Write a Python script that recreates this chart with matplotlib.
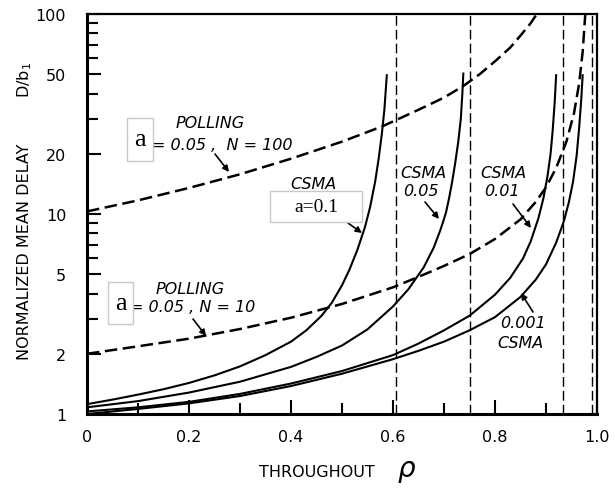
import matplotlib
matplotlib.use("Agg")
import matplotlib.pyplot as plt
from matplotlib.patches import Rectangle

# throughput rho vs normalized mean delay D/b1
rho_a01 = [0, 0.05, 0.1, 0.15, 0.2, 0.25, 0.3, 0.35, 0.4, 0.43, 0.46, 0.48,
           0.5, 0.515, 0.53, 0.545, 0.555, 0.565, 0.572, 0.578, 0.583, 0.588]
delay_a01 = [1.12, 1.18, 1.25, 1.33, 1.43, 1.56, 1.73, 1.97, 2.3, 2.62, 3.1, 3.6,
             4.4, 5.3, 6.6, 8.6, 10.8, 14.5, 19, 25, 33, 50]

rho_a005 = [0, 0.1, 0.2, 0.3, 0.4, 0.45, 0.5, 0.55, 0.6, 0.63, 0.66, 0.68,
            0.692, 0.698, 0.704, 0.71, 0.716, 0.722, 0.728, 0.733, 0.736, 0.738]
delay_a005 = [1.08, 1.16, 1.28, 1.45, 1.72, 1.93, 2.2, 2.65, 3.45, 4.2, 5.4, 6.8,
              8.2, 9.1, 10.2, 12, 14.5, 18, 23, 30, 40, 51]

rho_a001 = [0, 0.1, 0.2, 0.3, 0.4, 0.5, 0.6, 0.65, 0.7, 0.75, 0.8, 0.83,
            0.855, 0.87, 0.885, 0.895, 0.903, 0.909, 0.913, 0.917, 0.92]
delay_a001 = [1.03, 1.08, 1.15, 1.26, 1.42, 1.64, 1.97, 2.25, 2.62, 3.1, 3.95, 4.8,
              6.0, 7.3, 9.5, 12, 15.5, 20, 26, 36, 50]

rho_a0001 = [0, 0.1, 0.2, 0.3, 0.4, 0.5, 0.6, 0.65, 0.7, 0.75, 0.8, 0.85,
             0.88, 0.9, 0.92, 0.935, 0.945, 0.953, 0.96, 0.965, 0.969, 0.972]
delay_a0001 = [1.0, 1.06, 1.13, 1.23, 1.38, 1.59, 1.88, 2.07, 2.3, 2.62, 3.05, 3.85,
               4.7, 5.6, 7.2, 9.2, 11.5, 14.5, 19.5, 27, 37, 50]

rho_poll100 = [0, 0.1, 0.2, 0.3, 0.4, 0.5, 0.58, 0.65, 0.7, 0.737, 0.77, 0.8,
               0.83, 0.85, 0.87, 0.882]
delay_poll100 = [10.3, 11.7, 13.5, 15.8, 18.9, 23, 27.5, 33.2, 38.2, 43.5, 50, 58,
                 68, 78, 90, 100]

rho_poll10 = [0, 0.1, 0.2, 0.3, 0.4, 0.5, 0.6, 0.65, 0.7, 0.75, 0.8, 0.85,
              0.88, 0.9, 0.92, 0.94, 0.955, 0.965, 0.972, 0.977]
delay_poll10 = [2.0, 2.18, 2.38, 2.66, 3.03, 3.55, 4.3, 4.85, 5.5, 6.3, 7.5, 9.4,
                11.5, 13.6, 17, 23, 32, 45, 65, 100]

# capacity limits of the CSMA curves
rho_limits = [0.605, 0.75, 0.933, 0.99]

x_ticks = [0, 0.2, 0.4, 0.6, 0.8, 1.0]
x_tick_labels = ["0", "0.2", "0.4", "0.6", "0.8", "1.0"]
y_ticks = [1, 2, 5, 10, 20, 50, 100]
y_tick_labels = ["1", "2", "5", "10", "20", "50", "100"]

W, H = 615, 489
plt.rcParams["lines.scale_dashes"] = False
fig = plt.figure(figsize=(W / 100, H / 100), dpi=100)
ax = fig.add_axes([87 / W, 74 / H, 510 / W, 400 / H])


def fpx(x, y):
    # pixel position (from top-left) -> figure fraction
    return x / W, 1 - y / H


solid = dict(color="black", lw=1.5, solid_capstyle="butt",
             solid_joinstyle="round")
for r, d in [(rho_a01, delay_a01), (rho_a005, delay_a005),
             (rho_a001, delay_a001), (rho_a0001, delay_a0001)]:
    ax.plot(r, d, **solid)

for r, d in [(rho_poll100, delay_poll100), (rho_poll10, delay_poll10)]:
    ax.plot(r, d, color="black", lw=1.8, dashes=(9, 4))

for r in rho_limits:
    ax.axvline(r, color="black", lw=1.0, dashes=(7, 3))

ax.set_yscale("log")
ax.set_xlim(0, 1)
ax.set_ylim(1, 100)
ax.set_xticks(x_ticks)
ax.set_xticklabels(x_tick_labels)
ax.set_xticks([0.1, 0.3, 0.5, 0.7, 0.9], minor=True)
ax.set_yticks(y_ticks)
ax.set_yticklabels(y_tick_labels)
ax.set_yticks([3, 4, 6, 7, 8, 9, 30, 40, 60, 70, 80, 90], minor=True)
ax.yaxis.set_minor_formatter(plt.NullFormatter())
ax.tick_params(which="both", direction="in", width=1.5, labelsize=11.5)
ax.tick_params(which="major", length=10)
ax.tick_params(which="minor", length=8)
ax.tick_params(axis="x", pad=11)
ax.tick_params(axis="y", pad=15)
for side in ["left", "bottom"]:
    ax.spines[side].set_linewidth(2.2)
for side in ["top", "right"]:
    ax.spines[side].set_linewidth(1.6)

# axis titles
fig.text(*fpx(317, 473), "THROUGHOUT", ha="center", va="center", fontsize=11.5)
fig.text(*fpx(407, 471), r"$\rho$", ha="center", va="center", fontsize=20)
fig.text(*fpx(25, 252), "NORMALIZED MEAN DELAY", rotation=90,
         ha="center", va="center", fontsize=11.5)
fig.text(*fpx(25, 80), r"D/b$_\mathsf{1}$", rotation=90,
         ha="center", va="center", fontsize=11.5)

# curve labels
lab = dict(style="italic", fontsize=11.5, ha="center", va="center")
fig.text(*fpx(210, 123), "POLLING", **lab)
fig.text(*fpx(222, 145), "= 0.05 ,  N = 100", **lab)
fig.text(*fpx(190, 290), "POLLING", **lab)
fig.text(*fpx(193, 308), "= 0.05 , N = 10", **lab)
fig.text(*fpx(313, 185), "CSMA", **lab)
fig.text(*fpx(423, 173), "CSMA", **lab)
fig.text(*fpx(421, 192), "0.05", **lab)
fig.text(*fpx(503, 173), "CSMA", **lab)
fig.text(*fpx(502, 192), "0.01", **lab)
fig.text(*fpx(523, 323), "0.001", **lab)
fig.text(*fpx(520, 343), "CSMA", **lab)

# arrows pointing at the curves
arrows = [((215, 155), (229, 173)), ((193, 320), (206, 337)),
          ((348, 224), (362, 234)), ((425, 203), (439, 220)),
          ((513, 205), (531, 229)), ((533, 313), (521, 294))]
for (x0, y0), (x1, y1) in arrows:
    ax.annotate("", xy=fpx(x1, y1), xytext=fpx(x0, y0),
                xycoords="figure fraction", textcoords="figure fraction",
                arrowprops=dict(arrowstyle="-|>", color="black", lw=1.2,
                                mutation_scale=9, shrinkA=0, shrinkB=0))

# pasted-in boxes with the parameter symbol
boxes = [((127, 119, 153, 162), "a", 19), ((108, 283, 133, 325), "a", 19),
         ((270, 192, 362, 223), "a=0.1", 14)]
for (x0, y0, x1, y1), s, fs in boxes:
    fx0, fy1 = fpx(x0, y0)
    fx1, fy0 = fpx(x1, y1)
    fig.patches.append(Rectangle((fx0, fy0), fx1 - fx0, fy1 - fy0,
                                 transform=fig.transFigure, facecolor="white",
                                 edgecolor="#c8c8c8", lw=1.0, zorder=5))
    fig.text((fx0 + fx1) / 2, (fy0 + fy1) / 2, s, family="Liberation Serif",
             fontsize=fs, ha="center", va="center", zorder=6)

fig.savefig("out.png", dpi=100)
